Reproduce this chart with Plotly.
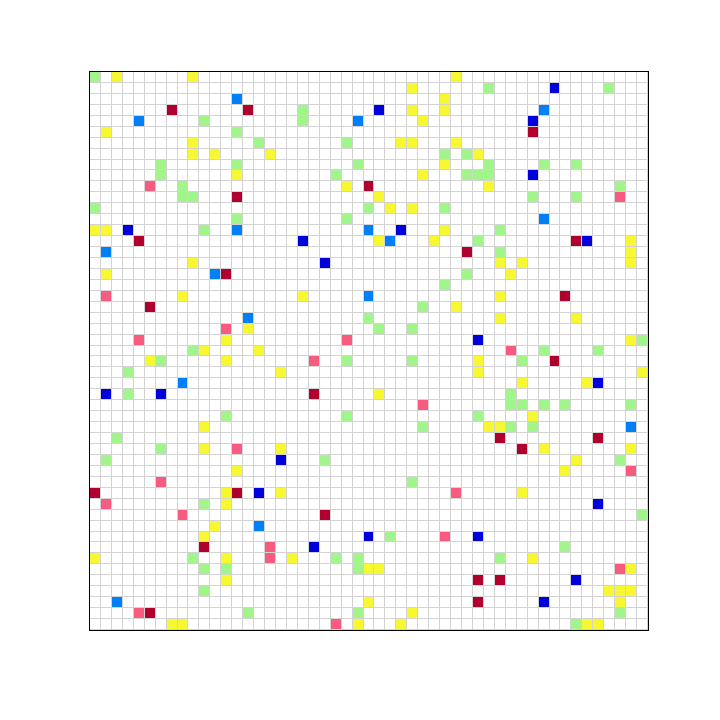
import plotly.graph_objects as go

N = 51  # grid is 51 x 51 cells

# (row, col) of coloured cells, row 0 at top, col 0 at left
green_cells = [
    (0, 0), (1, 36), (1, 47), (3, 19), (4, 10), (4, 19), (5, 13), (6, 15), (6, 23),
    (7, 32), (7, 34), (8, 6), (8, 13), (8, 24), (8, 36), (8, 41), (8, 44),
    (9, 6), (9, 22), (9, 34), (9, 35), (9, 36), (10, 8), (10, 48),
    (11, 8), (11, 9), (11, 40), (11, 44), (12, 0), (12, 25), (12, 32),
    (13, 13), (13, 23), (14, 10), (14, 37), (15, 35), (16, 37), (18, 34),
    (19, 32), (21, 30), (22, 25), (23, 26), (23, 29), (24, 50), (25, 9), (25, 41), (25, 46),
    (26, 6), (26, 23), (26, 29), (26, 39), (27, 3), (29, 3), (29, 38),
    (30, 38), (30, 39), (30, 41), (30, 43), (30, 49), (31, 12), (31, 23), (31, 35),
    (32, 30), (32, 38), (32, 40), (33, 2), (34, 6), (35, 1), (35, 21), (35, 48),
    (37, 29), (39, 10), (40, 50), (42, 27), (43, 43), (44, 9), (44, 22), (44, 24),
    (44, 37), (45, 10), (45, 12), (45, 24), (47, 10), (49, 14), (49, 24), (49, 48),
    (50, 44),
]
yellow_cells = [
    (0, 2), (0, 9), (0, 33), (1, 29), (2, 32), (3, 29), (3, 32), (4, 30), (5, 1),
    (6, 9), (6, 28), (6, 29), (6, 33), (7, 9), (7, 11), (7, 16), (7, 35), (8, 32),
    (9, 13), (9, 30), (10, 23), (10, 36), (11, 26), (12, 27), (12, 29),
    (14, 0), (14, 1), (14, 32), (15, 26), (15, 31), (15, 49), (16, 49),
    (17, 9), (17, 37), (17, 39), (17, 49), (18, 1), (18, 38), (20, 8), (20, 19),
    (20, 37), (21, 33), (22, 37), (22, 44), (23, 14), (24, 12), (24, 49),
    (25, 10), (25, 15), (26, 5), (26, 12), (26, 35), (27, 17), (27, 35), (27, 50),
    (28, 39), (28, 45), (29, 26), (31, 40), (32, 10), (32, 36), (32, 37),
    (34, 10), (34, 17), (34, 41), (34, 49), (35, 44), (36, 13), (36, 43),
    (38, 12), (38, 17), (38, 39), (39, 12), (41, 11), (42, 10),
    (44, 0), (44, 12), (44, 18), (44, 40), (45, 25), (45, 26), (45, 49), (46, 12),
    (47, 47), (47, 48), (47, 49), (48, 25), (48, 48), (49, 29),
    (50, 7), (50, 8), (50, 24), (50, 28), (50, 45), (50, 46),
]
darkred_cells = [
    (3, 7), (3, 14), (5, 40), (10, 25), (11, 13), (15, 4), (15, 44), (16, 34),
    (18, 12), (20, 43), (21, 5), (26, 42), (29, 20), (33, 37), (33, 46), (34, 39),
    (38, 0), (38, 13), (40, 21), (43, 10), (46, 35), (46, 37), (48, 35), (49, 5),
]
pink_cells = [
    (10, 5), (11, 48), (20, 1), (23, 12), (24, 4), (24, 23), (25, 38), (26, 20),
    (30, 30), (34, 13), (36, 49), (37, 6), (38, 33), (39, 1), (40, 8), (42, 32),
    (43, 16), (44, 16), (45, 48), (49, 4), (50, 22),
]
blue_cells = [
    (1, 42), (3, 26), (4, 40), (9, 40), (14, 3), (14, 28), (15, 19), (15, 45),
    (17, 21), (24, 35), (28, 46), (29, 1), (29, 6), (35, 17), (38, 15), (39, 46),
    (42, 25), (42, 35), (43, 20), (46, 44), (48, 41),
]
lightblue_cells = [
    (2, 13), (3, 41), (4, 4), (4, 24), (13, 41), (14, 13), (14, 25), (15, 27),
    (16, 1), (18, 11), (20, 25), (22, 14), (28, 8), (32, 49), (41, 15), (48, 2),
]

categories = ["empty", "green", "yellow", "darkred", "pink", "blue", "lightblue"]
colors = ["#ffffff", "#a2f58a", "#f8f832", "#b0002e", "#f85a80", "#0000dc", "#0080f8"]

groups = [green_cells, yellow_cells, darkred_cells, pink_cells, blue_cells, lightblue_cells]

z = [[0 for _ in range(N)] for _ in range(N)]
for k, cells in enumerate(groups, start=1):
    for r, c in cells:
        z[r][c] = k

ncat = len(categories)
colorscale = []
for i, col in enumerate(colors):
    colorscale.append([i / ncat, col])
    colorscale.append([(i + 1) / ncat, col])

fig = go.Figure(
    go.Heatmap(
        z=z,
        x=list(range(N)),
        y=list(range(N)),
        zmin=-0.5,
        zmax=ncat - 0.5,
        colorscale=colorscale,
        showscale=False,
        xgap=1,
        ygap=1,
        hoverinfo="skip",
    )
)

fig.update_layout(
    width=720,
    height=720,
    margin=dict(l=90, r=72, t=72, b=90),
    paper_bgcolor="white",
    plot_bgcolor="#d3d3d3",
    showlegend=False,
)
fig.update_xaxes(
    range=[-0.5, N - 0.5],
    showticklabels=False,
    ticks="",
    showgrid=False,
    zeroline=False,
    showline=True,
    linecolor="black",
    linewidth=1,
    mirror=True,
)
fig.update_yaxes(
    range=[N - 0.5, -0.5],
    showticklabels=False,
    ticks="",
    showgrid=False,
    zeroline=False,
    showline=True,
    linecolor="black",
    linewidth=1,
    mirror=True,
)

fig.write_html("out.html")
